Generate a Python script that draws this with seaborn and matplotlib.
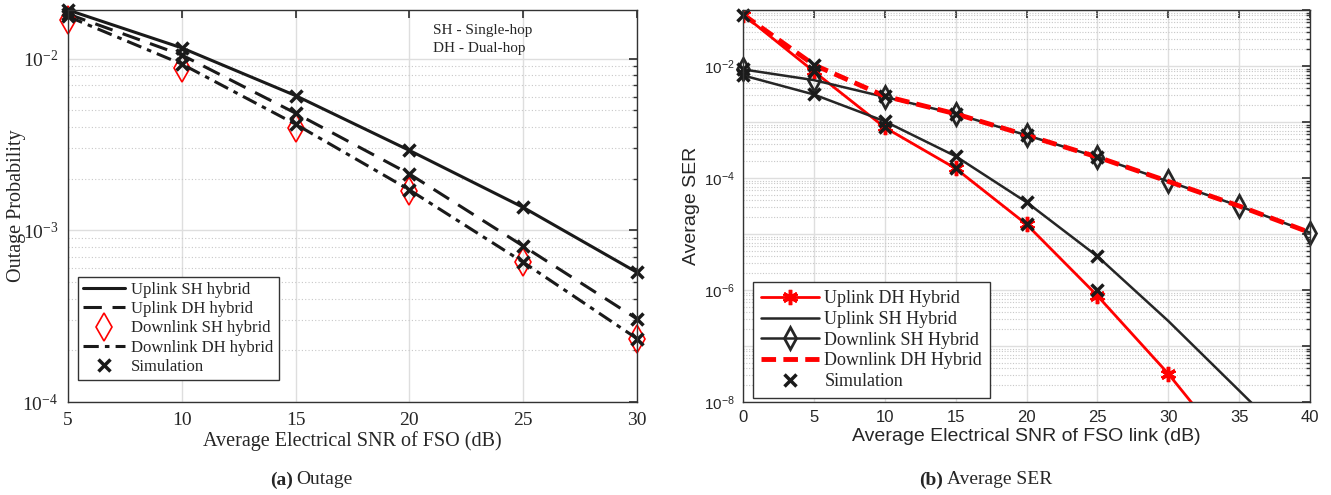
import numpy as np
import seaborn as sns
import matplotlib.pyplot as plt
from matplotlib.ticker import FixedLocator, LogLocator, NullFormatter, FuncFormatter

# ---- (a) Outage ----
snr_a = [5, 10, 15, 20, 25, 30]
up_sh_a = [0.0192, 0.01155, 0.00609, 0.00292, 0.00136, 0.000569]
up_dh_a = [0.0182, 0.0105, 0.00481, 0.00213, 0.00081, 0.000305]
dn_sh_a = [0.0168, 0.0088, 0.00396, 0.00170, 0.00065, 0.000234]
dn_dh_a = [0.0176, 0.0093, 0.00415, 0.00172, 0.000652, 0.000234]

# ---- (b) Average SER ----
snr_b = [0, 5, 10, 15, 20, 25, 30, 35, 40]
up_dh_b = [0.083, 0.0080, 0.00080, 0.000148, 1.49e-5, 7.9e-7, 3.2e-8, 8.7e-10, 2e-11]
up_sh_b = [0.0068, 0.0031, 0.00103, 0.000245, 3.7e-5, 4.0e-6, 2.8e-7, 1.6e-8, 9e-10]
dn_sh_b = [0.0087, 0.0056, 0.0028, 0.0014, 0.00058, 0.000237, 8.7e-5, 3.16e-5, 1.06e-5]
dn_dh_b = [0.083, 0.0105, 0.0029, 0.0014, 0.00058, 0.000237, 8.7e-5, 3.16e-5, 1.06e-5]
sim_x_b = [0, 5, 10, 15, 20, 25]
sim_up_dh_b = [0.083, 0.0080, 0.00080, 0.000148, 1.49e-5, 1.0e-6]
sim_up_sh_b = [0.0068, 0.0031, 0.00103, 0.000245, 3.7e-5, 4.0e-6]
sim_dn_b = [0.0087, 0.0105, 0.0029, 0.0014, 0.00058, 0.000237]

sns.set_theme(style="white")
plt.rcParams['font.family'] = ['Liberation Serif', 'DejaVu Serif']
plt.rcParams['mathtext.fontset'] = 'custom'
plt.rcParams['mathtext.rm'] = 'Liberation Serif'
plt.rcParams['mathtext.sf'] = 'Liberation Sans'
plt.rcParams['axes.unicode_minus'] = False

fig = plt.figure(figsize=(13.31, 4.95), dpi=100)
ax1 = fig.add_axes([68/1331, 1-402/495, (637-68)/1331, 392/495])
ax2 = fig.add_axes([743/1331, 1-402/495, (1310-743)/1331, 392/495])

# left panel
sns.lineplot(x=snr_a, y=up_sh_a, ax=ax1, color='k', lw=2.2, label='Uplink SH hybrid', clip_on=False)
sns.lineplot(x=snr_a, y=up_dh_a, ax=ax1, color='k', lw=2.2, dashes=(6, 3.5), label='Uplink DH hybrid',
             clip_on=False)
ax1.plot(snr_a, dn_sh_a, ls='', marker='d', ms=14, mfc='none', mec='red', mew=1.2,
         label='Downlink SH hybrid', clip_on=False)
sns.lineplot(x=snr_a, y=dn_dh_a, ax=ax1, color='k', lw=2.2, dashes=(5, 2, 1.5, 2), label='Downlink DH hybrid',
             clip_on=False)
sim_x_a = snr_a * 3
sim_y_a = up_sh_a + up_dh_a + dn_dh_a
ax1.plot(sim_x_a, sim_y_a, ls='', marker='x', ms=8, mew=2.5, color='k', label='Simulation', clip_on=False)

ax1.set_yscale('log')
ax1.set_xlim(5, 30)
ax1.set_ylim(1e-4, 0.0192)
ax1.xaxis.set_major_locator(FixedLocator(snr_a))
ax1.yaxis.set_major_locator(LogLocator(base=10))
ax1.yaxis.set_minor_locator(LogLocator(base=10, subs=np.arange(2, 10)))
ax1.yaxis.set_minor_formatter(NullFormatter())
ax1.grid(True, which='major', color='#dedede', lw=1)
ax1.grid(True, which='minor', axis='y', color='#c8c8c8', lw=0.8, ls=(0, (1, 2)))
ax1.tick_params(which='both', direction='in', top=True, right=True, labelsize=14, color='#333333', pad=7)
ax1.tick_params(which='major', length=6)
ax1.tick_params(which='minor', length=3)
for s in ax1.spines.values():
    s.set_color('#333333')
    s.set_linewidth(1)
ax1.set_xlabel('Average Electrical SNR of FSO (dB)', fontsize=14.5, labelpad=2)
ax1.set_ylabel('Outage Probability', fontsize=14.5)
ax1.yaxis.set_label_coords(-0.074, 0.5)
ax1.text(0.641, 0.965, 'SH - Single-hop\nDH - Dual-hop', transform=ax1.transAxes,
         va='top', ha='left', fontsize=11, linespacing=1.5)
leg1 = ax1.legend(loc='lower left', bbox_to_anchor=(0.0176, 0.056), borderaxespad=0, fontsize=12,
                  frameon=True, fancybox=False, edgecolor='#333333', framealpha=1, handlelength=2.5,
                  borderpad=0.3, labelspacing=0.2, handletextpad=0.4)
leg1.get_frame().set_linewidth(1)

# right panel
sans = ['Liberation Sans', 'DejaVu Sans']
red = '#ff0000'
gray = '#262626'
sns.lineplot(x=snr_b, y=up_dh_b, ax=ax2, color=red, lw=2, marker=(6, 2, 0), ms=11, mew=2.5,
             mec=red, label='Uplink DH Hybrid')
sns.lineplot(x=snr_b, y=up_sh_b, ax=ax2, color=gray, lw=1.8, label='Uplink SH Hybrid')
sns.lineplot(x=snr_b, y=dn_sh_b, ax=ax2, color=gray, lw=1.8, marker='d', ms=11, mfc='none',
             mec=gray, mew=2, label='Downlink SH Hybrid', clip_on=False)
sns.lineplot(x=snr_b, y=dn_dh_b, ax=ax2, color=red, lw=3.5, dashes=(3, 1.5), label='Downlink DH Hybrid',
             clip_on=False)
ax2.plot(sim_x_b * 3, sim_up_dh_b + sim_up_sh_b + sim_dn_b, ls='', marker='x', ms=8, mew=2.5,
         color='k', label='Simulation', clip_on=False)

ax2.set_yscale('log')
ax2.set_xlim(0, 40)
ax2.set_ylim(1e-8, 1e-1)
ax2.xaxis.set_major_locator(FixedLocator(snr_b))
ax2.yaxis.set_major_locator(LogLocator(base=10, numticks=20))
ax2.yaxis.set_major_formatter(FuncFormatter(
    lambda v, p: r'$\mathsf{10^{%d}}$' % round(np.log10(v)) if round(np.log10(v)) % 2 == 0 else ''))
ax2.yaxis.set_minor_locator(LogLocator(base=10, subs=np.arange(2, 10), numticks=20))
ax2.yaxis.set_minor_formatter(NullFormatter())
ax2.grid(True, which='major', color='#dedede', lw=1)
ax2.grid(True, which='minor', axis='y', color='#c8c8c8', lw=0.8, ls=(0, (1, 1.5)))
ax2.tick_params(which='both', direction='in', top=True, right=True, labelsize=12, color='#333333', pad=6)
ax2.tick_params(which='major', length=6)
ax2.tick_params(which='minor', length=3)
for lab in ax2.get_xticklabels():
    lab.set_family(sans)
for lab in ax2.get_yticklabels():
    lab.set_family(sans)
    lab.set_fontsize(11)
for s in ax2.spines.values():
    s.set_color('#333333')
    s.set_linewidth(1)
ax2.set_xlabel('Average Electrical SNR of FSO link (dB)', fontsize=14, family=sans, labelpad=2)
ax2.set_ylabel('Average SER', fontsize=14, family=sans)
ax2.yaxis.set_label_coords(-0.076, 0.5)
leg2 = ax2.legend(loc='lower left', bbox_to_anchor=(10/567, 4/392), borderaxespad=0, fontsize=13,
                  frameon=True, fancybox=False, edgecolor='#333333', framealpha=1, handlelength=3.2,
                  borderpad=0.45, labelspacing=0.2, handletextpad=0.3)
leg2.get_frame().set_linewidth(1)

# captions
fig.text(293/1331, 1-480/495, '(a)', fontsize=14, fontweight='bold', ha='right', va='center')
fig.text(296/1331, 1-480/495, 'Outage', fontsize=14, ha='left', va='center')
fig.text(943/1331, 1-480/495, '(b)', fontsize=14, fontweight='bold', ha='right', va='center')
fig.text(947/1331, 1-480/495, 'Average SER', fontsize=14, ha='left', va='center')

fig.savefig('out.png', dpi=100)
